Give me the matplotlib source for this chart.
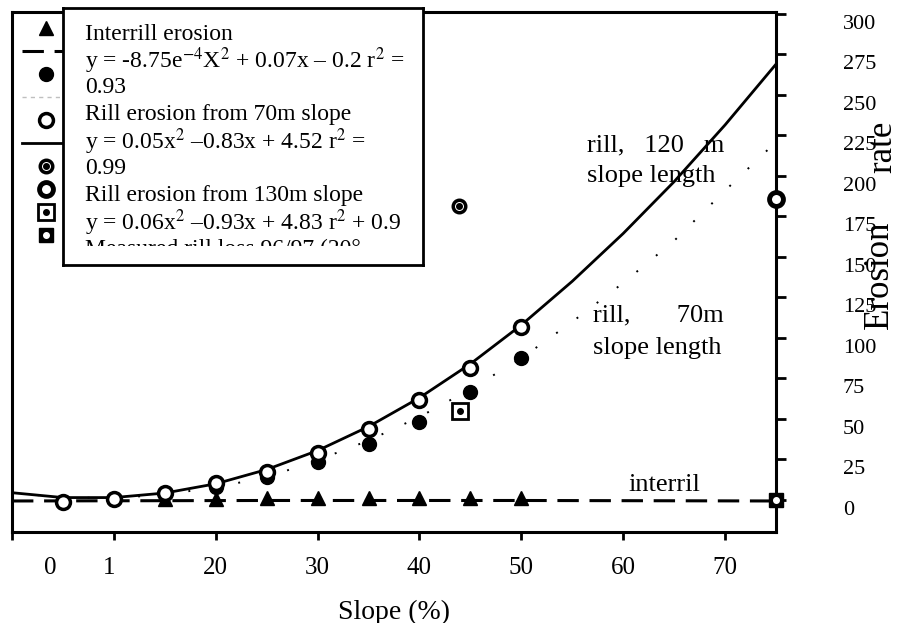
import matplotlib.pyplot as plt
from matplotlib.lines import Line2D
from matplotlib.patches import Rectangle
from matplotlib.transforms import ScaledTranslation

plt.rcParams['font.family'] = ['Liberation Serif', 'DejaVu Serif']
plt.rcParams['mathtext.fontset'] = 'stix'

# measured points (slope %, erosion rate)
slope_120 = [5, 10, 15, 20, 25, 30, 35, 40, 45, 50]
rill_120 = [-1, 0.6, 4.3, 10.5, 17.3, 29, 43.8, 61.7, 81.5, 107]
slope_70 = [20, 25, 30, 35, 40, 45, 50]
rill_70 = [8, 14, 23.5, 34.6, 48, 66.7, 87.7]
slope_inter = [15, 20, 25, 30, 35, 40, 45, 50]
interrill = [0.8, 0.6, 1.2, 1.2, 1.2, 1.2, 1.2, 1.1]

# trend lines
fit_x = [0, 5, 10, 15, 20, 25, 30, 35, 40, 45, 50, 55, 60, 65, 70, 75]
fit_120 = [4.5, 1.5, 1.5, 4.3, 10, 18.8, 30.5, 45.3, 63.1, 84, 108, 135, 164.5, 196.5, 231.5, 269]
fit_70 = [4.5, 1.6, 1.2, 3.3, 7.9, 14, 24.6, 36.7, 51.3, 68.4, 87.5, 110, 134, 160, 191, 221]
fit_inter_x = [0, 25, 50, 75]
fit_inter = [-0.6, -0.3, -0.3, -0.6]

# measured rill 96/97 points
meas_x = [43.9, 75, 44, 75]
meas_y = [181.5, 186, 55, 0]

xticks = [0, 10, 20, 30, 40, 50, 60, 70]
xticklabels = ['0', '1', '20', '30', '40', '50', '60', '70']
yticks = [0, 25, 50, 75, 100, 125, 150, 175, 200, 225, 250, 275, 300]

box_lines = [
    'Interrill erosion',
    'y = -8.75e$^{-4}$X$^{2}$ + 0.07x \u2013 0.2 r$^{2}$ =',
    '0.93',
    'Rill erosion from 70m slope',
    'y = 0.05x$^{2}$ \u20130.83x + 4.52 r$^{2}$ =',
    '0.99',
    'Rill erosion from 130m slope',
    'y = 0.06x$^{2}$ \u20130.93x + 4.83 r$^{2}$ + 0.9',
    'Measured rill loss 96/97 (20\u00b0',
]

fig = plt.figure(figsize=(9, 6.23), dpi=100)
ax = fig.add_axes([12/900, 1 - 532/623, 764/900, 520/623])

ax.plot(fit_inter_x, fit_inter, color='black', lw=2.2, dashes=(7, 3.5), zorder=2)
ax.plot(fit_x, fit_70, color='black', lw=1.4, linestyle=(0, (1, 12)), zorder=2)
ax.plot(fit_x, fit_120, color='black', lw=2, zorder=2)

ax.plot(slope_inter, interrill, '^', color='black', ms=10, zorder=3)
ax.plot(slope_70, rill_70, 'o', color='black', ms=10, zorder=3)
ax.plot(slope_120, rill_120, 'o', mfc='white', mec='black', mew=2.5, ms=10, zorder=4)

m1a, = ax.plot(meas_x[0], meas_y[0], 'o', mfc='white', mec='black', mew=2.5, ms=9, zorder=5)
m1b, = ax.plot(meas_x[0], meas_y[0], 'o', color='black', ms=4, zorder=6)
m2, = ax.plot(meas_x[1], meas_y[1], 'o', mfc='white', mec='black', mew=3.5, ms=10,
              zorder=5, clip_on=False)
m3a, = ax.plot(meas_x[2], meas_y[2], 's', mfc='white', mec='black', mew=2, ms=11, zorder=5)
m3b, = ax.plot(meas_x[2], meas_y[2], 'o', color='black', ms=4, zorder=6)
m4a, = ax.plot(meas_x[3], meas_y[3], 's', color='black', ms=10, zorder=5, clip_on=False)
m4b, = ax.plot(meas_x[3], meas_y[3], 'o', color='white', ms=4, zorder=6, clip_on=False)

ax.text(56.4, 219, 'rill,   120   m', fontsize=19, va='center')
ax.text(56.4, 200, 'slope length', fontsize=19, va='center')
ax.text(57, 114, 'rill,       70m', fontsize=19, va='center')
ax.text(57, 94, 'slope length', fontsize=19, va='center')
ax.text(60.5, 9.5, 'interril', fontsize=19, va='center')

ax.set_xlim(0, 75)
ax.set_ylim(-19.75, 301.2)
ax.set_xticks(xticks)
ax.set_xticklabels(xticklabels, fontsize=18)
ax.set_yticks(yticks)
ax.set_yticklabels([str(v) for v in yticks], fontsize=16)
ax.yaxis.tick_right()
ax.tick_params(axis='x', direction='out', length=6, width=2, pad=12)
ax.tick_params(axis='y', direction='out', length=7, width=2, pad=41)
for s in ax.spines.values():
    s.set_linewidth(2.2)

xl = ax.get_xticklabels()
xl[0].set_transform(xl[0].get_transform() + ScaledTranslation(0.38, 0, fig.dpi_scale_trans))
xl[1].set_transform(xl[1].get_transform() + ScaledTranslation(-0.05, 0, fig.dpi_scale_trans))
for lbl in ax.get_yticklabels():
    lbl.set_transform(lbl.get_transform() + ScaledTranslation(0, -0.08, fig.dpi_scale_trans))

ax.set_xlabel('Slope (%)', fontsize=20, labelpad=15)
fig.text(879/900, 1 - 275/623, 'Erosion', rotation=90, fontsize=25, ha='center', va='center')
fig.text(883/900, 1 - 147/623, 'rate', rotation=90, fontsize=25, ha='center', va='center')

# legend (labels hidden behind the text box, as in the original)
handles = [
    Line2D([], [], marker='^', color='black', ls='none', ms=10),
    Line2D([], [], color='black', lw=2.2, dashes=(7, 3.5)),
    Line2D([], [], marker='o', color='black', ls='none', ms=10),
    Line2D([], [], color='0.75', lw=1, ls=(0, (3, 3))),
    Line2D([], [], marker='o', mfc='white', mec='black', mew=2.5, ls='none', ms=10),
    Line2D([], [], color='black', lw=2),
    (m1a, m1b), m2, (m3a, m3b), (m4a, m4b),
]
labels = ['Interrill', 'Poly. (Interrill)', 'Rill 70m', 'Poly. (Rill 70m)',
          'Rill 130m', 'Poly. (Rill 130m)', 'Measured 1', 'Measured 2',
          'Measured 3', 'Measured 4']
leg = ax.legend(handles, labels, loc='upper left', bbox_to_anchor=(0, 1),
                borderaxespad=0, fontsize=12, labelspacing=0.42, handlelength=2.9,
                borderpad=0.6, frameon=False)

# equation text box, last line cut off by the box as in the original
bx = fig.add_axes([63/900, 1 - 265/623, 360/900, 257/623])
bx.set_zorder(5)
bx.set_xlim(0, 1)
bx.set_ylim(0, 1)
bx.set_xticks([])
bx.set_yticks([])
for s in bx.spines.values():
    s.set_linewidth(2)
clip = Rectangle((0, 19/257), 1, 1, transform=bx.transAxes)
for k, line in enumerate(box_lines):
    yc = 34 + 26.9*k
    t = bx.text(22/360, (265 - yc)/257, line, fontsize=17, va='center', ha='left')
    t.set_clip_on(True)
    t.set_clip_path(clip)

fig.savefig('out.png', dpi=100)
